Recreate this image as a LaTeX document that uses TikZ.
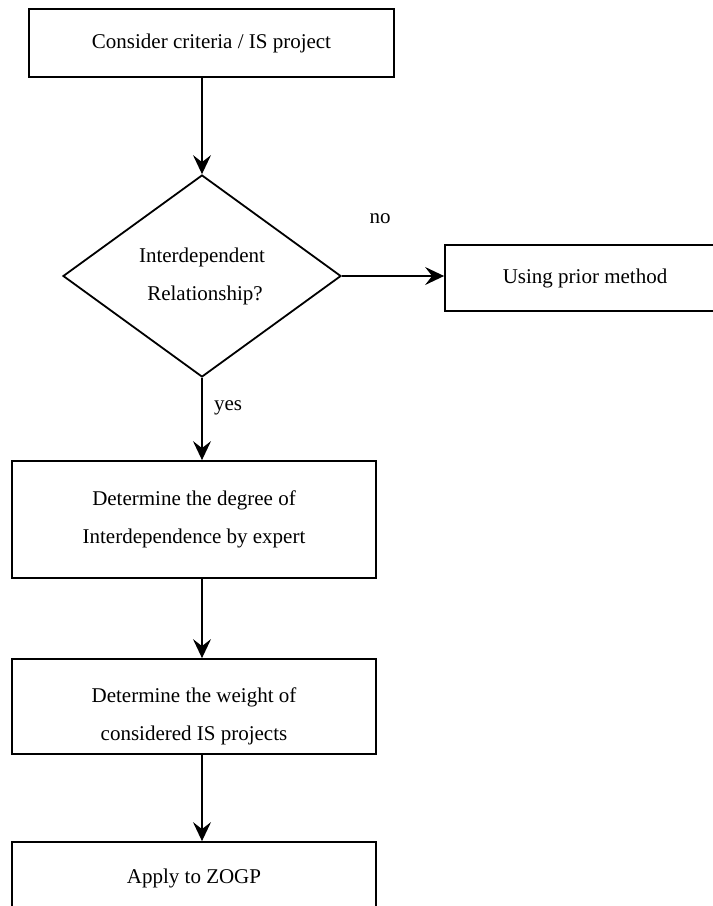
\documentclass[tikz,border=0pt]{standalone}
\usepackage{fontspec}
\setmainfont{Liberation Serif}
\usetikzlibrary{shapes.geometric,arrows.meta}
\begin{document}
\begin{tikzpicture}[x=1pt,y=-1pt,
  every node/.style={font=\fontsize{21}{38}\selectfont},
  flowbox/.style={draw,line width=1.8pt,rectangle,inner sep=0pt,align=center},
  decide/.style={draw,line width=1.8pt,diamond,aspect=1.4,inner sep=0pt,align=center,
     minimum width=278pt,minimum height=202pt},
  flow/.style={line width=1.5pt,-{Stealth[length=19pt,width=18pt,inset=7pt]}},
  lbl/.style={inner sep=0pt}]
\useasboundingbox (0,0) rectangle (713,906);
\clip (0,0) rectangle (713,906);
\fill[white] (0,0) rectangle (713,906);
\node[flowbox,minimum width=365pt,minimum height=68pt] (b1) at (211.5,43) {Consider criteria / IS project};
\node[decide] (dia) at (202,276) {Interdependent\\\hspace*{6pt}Relationship?};
\node[flowbox,minimum width=280pt,minimum height=66pt] (b2) at (585,278) {Using prior method};
\node[flowbox,minimum width=364pt,minimum height=117pt] (b3) at (194,519.5) {Determine the degree of\\Interdependence by expert};
\node[flowbox,minimum width=364pt,minimum height=95pt] (b4) at (194,706.5) {\raisebox{-7pt}[\height][\depth]{\begin{tabular}{@{}c@{}}Determine the weight of\\considered IS projects\end{tabular}}};
\node[flowbox,minimum width=364pt,minimum height=72pt] (b5) at (194,878) {Apply to ZOGP};
\node[lbl] (lno) at (380,219) {no};
\node[lbl] (lyes) at (228,408) {yes};
\draw[flow] (dia.north |- b1.south) -- (dia.north);
\draw[flow] (dia.east) -- (dia.east -| b2.west);
\draw[flow] (dia.south) -- (dia.south |- b3.north);
\draw[flow] (dia.south |- b3.south) -- (dia.south |- b4.north);
\draw[flow] (dia.south |- b4.south) -- (dia.south |- b5.north);
\end{tikzpicture}
\end{document}
